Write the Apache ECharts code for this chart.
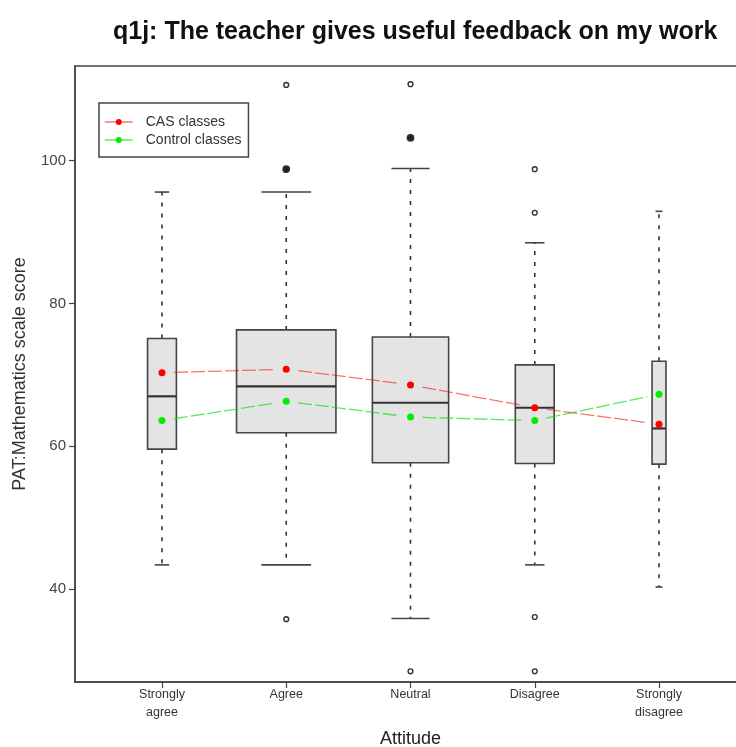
<!DOCTYPE html>
<html>
<head>
<meta charset="utf-8">
<script src="https://cdn.jsdelivr.net/npm/echarts@6/dist/echarts.min.js"></script>
<style>
  html, body { margin: 0; padding: 0; background: #ffffff; }
  #chart { width: 736px; height: 747px; }
</style>
</head>
<body>
<div id="chart"></div>
<script>
// Attitude groups along the x axis
const categories = ['Strongly\nagree', 'Agree', 'Neutral', 'Disagree', 'Strongly\ndisagree'];

// Five-number summaries of PAT:Mathematics scale score per group
const whiskerLow  = [43.4, 43.4, 35.9, 43.4, 40.3];
const quartile1   = [59.6, 61.9, 57.7, 57.6, 57.5];
const medians     = [67.0, 68.4, 66.1, 65.4, 62.5];
const quartile3   = [75.1, 76.3, 75.3, 71.4, 71.9];
const whiskerHigh = [95.6, 95.6, 98.9, 88.5, 92.9];

// Students per group (box width grows with the square root of n)
const groupSize = [43, 510, 300, 78, 10];

// Outlying scores: [group index, score, number of students at that score]
const outliers = [
  [1, 110.6, 1], [1, 98.8, 3], [1, 35.8, 1],
  [2, 110.7, 1], [2, 103.2, 3], [2, 28.5, 1],
  [3, 98.8, 1], [3, 92.7, 1], [3, 36.1, 1], [3, 28.5, 1]
];

// Group means for the two kinds of class
const casMeans     = [70.3, 70.8, 68.6, 65.4, 63.1];
const controlMeans = [63.6, 66.3, 64.1, 63.6, 67.3];

// Y tick labels
const yTicks = [40, 60, 80, 100];

const FONT = 'Liberation Sans, Arial, Helvetica, sans-serif';
const maxN = Math.max.apply(null, groupSize);
const RED = '#ff0000';
const GREEN = '#00ee00';
const RED_LINE = 'rgba(255,0,0,0.55)';
const GREEN_LINE = 'rgba(0,225,0,0.65)';

const boxData = categories.map((c, i) => [
  i + 1, whiskerLow[i], quartile1[i], medians[i], quartile3[i], whiskerHigh[i], groupSize[i]
]);

function renderBox(params, api) {
  const x = api.value(0);
  const band = api.size([1, 0])[0];
  const w = Math.sqrt(api.value(6) / maxN) * 0.8 * band;
  const cx = api.coord([x, 0])[0];
  const yLow = api.coord([x, api.value(1)])[1];
  const yQ1 = api.coord([x, api.value(2)])[1];
  const yMed = api.coord([x, api.value(3)])[1];
  const yQ3 = api.coord([x, api.value(4)])[1];
  const yHigh = api.coord([x, api.value(5)])[1];
  const dashStyle = { stroke: '#333', lineWidth: 1.6, lineDash: [4, 7] };
  const capStyle = { stroke: '#444', lineWidth: 1.6 };
  return {
    type: 'group',
    children: [
      { type: 'line', shape: { x1: cx, y1: yQ3, x2: cx, y2: yHigh }, style: dashStyle },
      { type: 'line', shape: { x1: cx, y1: yQ1, x2: cx, y2: yLow }, style: dashStyle },
      { type: 'line', shape: { x1: cx - w / 4, y1: yHigh, x2: cx + w / 4, y2: yHigh }, style: capStyle },
      { type: 'line', shape: { x1: cx - w / 4, y1: yLow, x2: cx + w / 4, y2: yLow }, style: capStyle },
      { type: 'rect', shape: { x: cx - w / 2, y: yQ3, width: w, height: yQ1 - yQ3 },
        style: { fill: '#e4e4e4', stroke: '#444', lineWidth: 1.6 } },
      { type: 'line', shape: { x1: cx - w / 2, y1: yMed, x2: cx + w / 2, y2: yMed },
        style: { stroke: '#333', lineWidth: 2.2 } }
    ]
  };
}

function renderOutlier(params, api) {
  const p = api.coord([api.value(0) + 1, api.value(1)]);
  const many = api.value(2) > 1;
  return {
    type: 'circle',
    shape: { cx: p[0], cy: p[1], r: many ? 3.2 : 2.4 },
    style: { fill: many ? '#222' : 'none', stroke: '#333', lineWidth: 1.4 }
  };
}

// Segments between consecutive means, stopping short of each point
function segments(values) {
  const out = [];
  for (let i = 0; i < values.length - 1; i++) {
    out.push([i + 1, values[i], i + 2, values[i + 1]]);
  }
  return out;
}
function makeSegmentRenderer(color) {
  return function (params, api) {
    const a = api.coord([api.value(0), api.value(1)]);
    const b = api.coord([api.value(2), api.value(3)]);
    const dx = b[0] - a[0], dy = b[1] - a[1];
    const len = Math.sqrt(dx * dx + dy * dy);
    const gap = 12;
    const ux = dx / len, uy = dy / len;
    return {
      type: 'line',
      shape: { x1: a[0] + ux * gap, y1: a[1] + uy * gap, x2: b[0] - ux * gap, y2: b[1] - uy * gap },
      style: { stroke: color, lineWidth: 1.3, lineDash: [14, 3] }
    };
  };
}

const chart = echarts.init(document.getElementById('chart'), null, { renderer: 'canvas' });
chart.setOption({
  animation: false,
  backgroundColor: '#ffffff',
  textStyle: { fontFamily: FONT },
  title: {
    text: 'q1j: The teacher gives useful feedback on my work',
    left: 108,
    top: 15,
    textStyle: { fontFamily: FONT, fontSize: 25, fontWeight: 'bold', color: '#111' }
  },
  legend: {
    orient: 'vertical',
    left: 99,
    top: 103,
    padding: [11, 7, 9, 5],
    itemGap: 2,
    itemWidth: 28,
    itemHeight: 7.5,
    borderColor: '#444',
    borderWidth: 1.5,
    textStyle: { fontFamily: FONT, fontSize: 14, color: '#333', lineHeight: 16, padding: [0, 0, 0, 8] },
    data: [
      { name: 'CAS classes', itemStyle: { color: RED }, lineStyle: { color: RED_LINE, width: 1.5, opacity: 1 } },
      { name: 'Control classes', itemStyle: { color: GREEN }, lineStyle: { color: GREEN_LINE, width: 1.5, opacity: 1 } }
    ]
  },
  grid: {
    left: 75, right: -10, top: 66, bottom: 65,
    outerBoundsMode: 'none', containLabel: false,
    show: true, borderColor: '#444', borderWidth: 1.5, backgroundColor: 'transparent'
  },
  xAxis: {
    type: 'value',
    min: 0.3,
    max: 5.7,
    name: 'Attitude',
    nameLocation: 'middle',
    nameGap: 48,
    nameTextStyle: { fontFamily: FONT, fontSize: 18, color: '#222' },
    splitLine: { show: false },
    axisLine: { show: true, lineStyle: { color: '#444', width: 1.5 } },
    axisTick: { show: true, length: 6, customValues: [1, 2, 3, 4, 5], lineStyle: { color: '#444', width: 1.2 } },
    axisLabel: {
      customValues: [1, 2, 3, 4, 5],
      formatter: v => categories[Math.round(v) - 1] || '',
      fontFamily: FONT, fontSize: 12.5, color: '#333', lineHeight: 18, margin: 4
    }
  },
  yAxis: {
    type: 'value',
    min: 27.0,
    max: 113.25,
    name: 'PAT:Mathematics scale score',
    nameLocation: 'middle',
    nameGap: 46,
    nameTextStyle: { fontFamily: FONT, fontSize: 18, color: '#333' },
    splitLine: { show: false },
    axisLine: { show: true, lineStyle: { color: '#444', width: 1.5 } },
    axisTick: { show: true, length: 6, customValues: yTicks, lineStyle: { color: '#444', width: 1.2 } },
    axisLabel: { customValues: yTicks, fontFamily: FONT, fontSize: 15, color: '#444', margin: 9 }
  },
  series: [
    { type: 'custom', renderItem: renderBox, data: boxData, z: 2, silent: true,
      encode: { x: 0, y: [1, 2, 3, 4, 5] } },
    { type: 'custom', renderItem: renderOutlier, data: outliers, z: 3, silent: true,
      encode: { x: 0, y: 1 } },
    { type: 'custom', renderItem: makeSegmentRenderer(RED_LINE), data: segments(casMeans), z: 4, silent: true,
      encode: { x: [0, 2], y: [1, 3] } },
    { type: 'custom', renderItem: makeSegmentRenderer(GREEN_LINE), data: segments(controlMeans), z: 4, silent: true,
      encode: { x: [0, 2], y: [1, 3] } },
    { name: 'CAS classes', type: 'line', z: 5,
      data: casMeans.map((v, i) => [i + 1, v]),
      symbol: 'circle', symbolSize: 7, showAllSymbol: true,
      itemStyle: { color: RED }, lineStyle: { opacity: 0 } },
    { name: 'Control classes', type: 'line', z: 5,
      data: controlMeans.map((v, i) => [i + 1, v]),
      symbol: 'circle', symbolSize: 7, showAllSymbol: true,
      itemStyle: { color: GREEN }, lineStyle: { opacity: 0 } }
  ]
});
</script>
</body>
</html>
